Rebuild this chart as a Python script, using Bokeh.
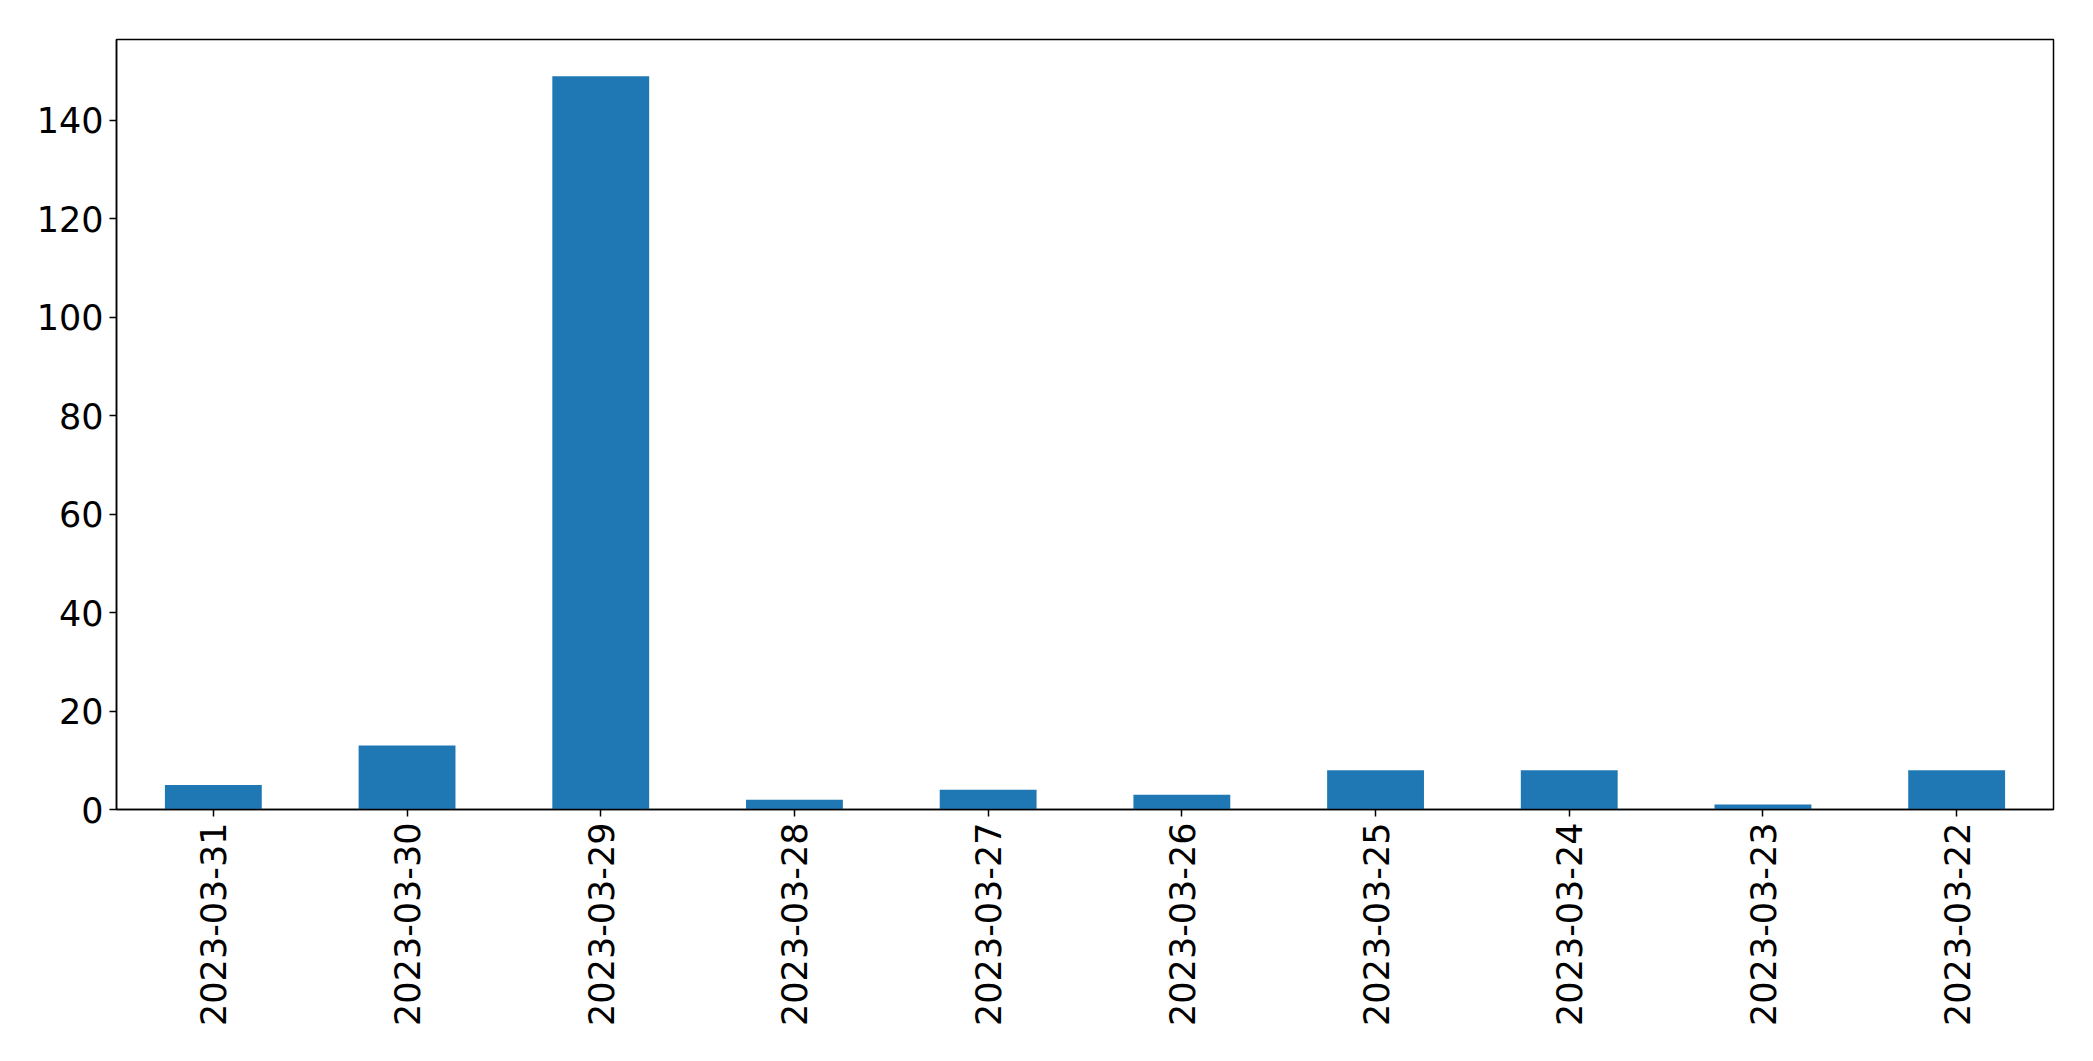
import math
from bokeh.plotting import figure
from bokeh.models import ColumnDataSource, FactorRange, Range1d
from bokeh.embed import file_html
from bokeh.resources import INLINE

dates = ["2023-03-31", "2023-03-30", "2023-03-29", "2023-03-28", "2023-03-27",
         "2023-03-26", "2023-03-25", "2023-03-24", "2023-03-23", "2023-03-22"]
counts = [5, 13, 149, 2, 4, 3, 8, 8, 1, 8]
y_ticks = [0, 20, 40, 60, 80, 100, 120, 140]

src = ColumnDataSource(dict(date=dates, count=counts))

p = figure(width=2077, height=1045, x_range=FactorRange(*dates),
           y_range=Range1d(0, max(counts) * 1.05),
           output_backend="svg", toolbar_location=None,
           min_border_left=116, min_border_top=39, min_border_right=24, min_border_bottom=236)

p.vbar(x="date", top="count", width=0.5, source=src, color="#1f77b4", line_color=None)

p.xgrid.visible = False
p.ygrid.visible = False
p.outline_line_color = "black"
p.outline_line_width = 1.5
p.outline_line_alpha = 1

p.yaxis.ticker = y_ticks
for ax in (p.xaxis, p.yaxis):
    ax.axis_line_color = "black"
    ax.axis_line_width = 1.5
    ax.major_tick_line_color = "black"
    ax.major_tick_line_width = 1.5
    ax.major_tick_out = 7
    ax.major_tick_in = 0
    ax.minor_tick_line_color = None
    ax.major_label_text_font = "DejaVu Sans"
    ax.major_label_text_font_size = "35px"
    ax.major_label_text_color = "black"
    ax.major_label_standoff = 6
p.xaxis.major_label_orientation = math.pi / 2
p.xaxis.group_text_font_size = "0px"

open("out.html", "w").write(file_html(p, INLINE))
